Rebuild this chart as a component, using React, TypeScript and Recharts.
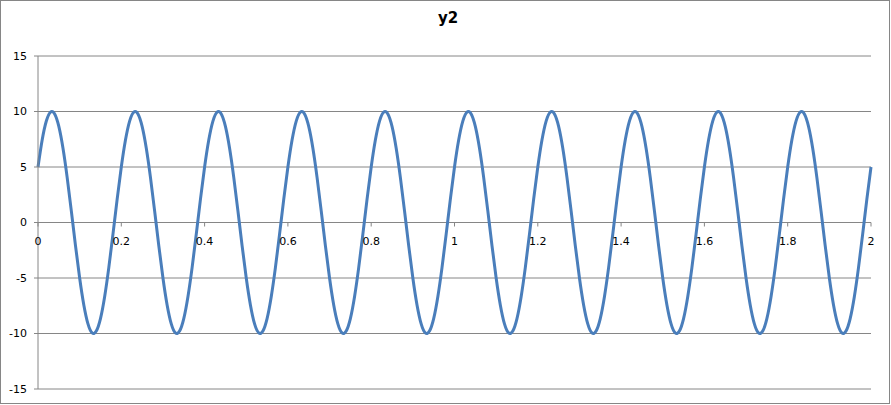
import React from "react";
import { LineChart, Line, XAxis, YAxis, CartesianGrid } from "recharts";

const title = "y2";

const xValues = [
  0, 0.01, 0.02, 0.03, 0.04, 0.05, 0.06, 0.07, 0.08, 0.09,
  0.1, 0.11, 0.12, 0.13, 0.14, 0.15, 0.16, 0.17, 0.18, 0.19,
  0.2, 0.21, 0.22, 0.23, 0.24, 0.25, 0.26, 0.27, 0.28, 0.29,
  0.3, 0.31, 0.32, 0.33, 0.34, 0.35, 0.36, 0.37, 0.38, 0.39,
  0.4, 0.41, 0.42, 0.43, 0.44, 0.45, 0.46, 0.47, 0.48, 0.49,
  0.5, 0.51, 0.52, 0.53, 0.54, 0.55, 0.56, 0.57, 0.58, 0.59,
  0.6, 0.61, 0.62, 0.63, 0.64, 0.65, 0.66, 0.67, 0.68, 0.69,
  0.7, 0.71, 0.72, 0.73, 0.74, 0.75, 0.76, 0.77, 0.78, 0.79,
  0.8, 0.81, 0.82, 0.83, 0.84, 0.85, 0.86, 0.87, 0.88, 0.89,
  0.9, 0.91, 0.92, 0.93, 0.94, 0.95, 0.96, 0.97, 0.98, 0.99,
  1, 1.01, 1.02, 1.03, 1.04, 1.05, 1.06, 1.07, 1.08, 1.09,
  1.1, 1.11, 1.12, 1.13, 1.14, 1.15, 1.16, 1.17, 1.18, 1.19,
  1.2, 1.21, 1.22, 1.23, 1.24, 1.25, 1.26, 1.27, 1.28, 1.29,
  1.3, 1.31, 1.32, 1.33, 1.34, 1.35, 1.36, 1.37, 1.38, 1.39,
  1.4, 1.41, 1.42, 1.43, 1.44, 1.45, 1.46, 1.47, 1.48, 1.49,
  1.5, 1.51, 1.52, 1.53, 1.54, 1.55, 1.56, 1.57, 1.58, 1.59,
  1.6, 1.61, 1.62, 1.63, 1.64, 1.65, 1.66, 1.67, 1.68, 1.69,
  1.7, 1.71, 1.72, 1.73, 1.74, 1.75, 1.76, 1.77, 1.78, 1.79,
  1.8, 1.81, 1.82, 1.83, 1.84, 1.85, 1.86, 1.87, 1.88, 1.89,
  1.9, 1.91, 1.92, 1.93, 1.94, 1.95, 1.96, 1.97, 1.98, 1.99,
  2,
];

const y2Values = [
  5, 7.43, 9.14, 9.95, 9.78, 8.66, 6.69, 4.07, 1.05, -2.08,
  -5, -7.43, -9.14, -9.95, -9.78, -8.66, -6.69, -4.07, -1.05, 2.08,
  5, 7.43, 9.14, 9.95, 9.78, 8.66, 6.69, 4.07, 1.05, -2.08,
  -5, -7.43, -9.14, -9.95, -9.78, -8.66, -6.69, -4.07, -1.05, 2.08,
  5, 7.43, 9.14, 9.95, 9.78, 8.66, 6.69, 4.07, 1.05, -2.08,
  -5, -7.43, -9.14, -9.95, -9.78, -8.66, -6.69, -4.07, -1.05, 2.08,
  5, 7.43, 9.14, 9.95, 9.78, 8.66, 6.69, 4.07, 1.05, -2.08,
  -5, -7.43, -9.14, -9.95, -9.78, -8.66, -6.69, -4.07, -1.05, 2.08,
  5, 7.43, 9.14, 9.95, 9.78, 8.66, 6.69, 4.07, 1.05, -2.08,
  -5, -7.43, -9.14, -9.95, -9.78, -8.66, -6.69, -4.07, -1.05, 2.08,
  5, 7.43, 9.14, 9.95, 9.78, 8.66, 6.69, 4.07, 1.05, -2.08,
  -5, -7.43, -9.14, -9.95, -9.78, -8.66, -6.69, -4.07, -1.05, 2.08,
  5, 7.43, 9.14, 9.95, 9.78, 8.66, 6.69, 4.07, 1.05, -2.08,
  -5, -7.43, -9.14, -9.95, -9.78, -8.66, -6.69, -4.07, -1.05, 2.08,
  5, 7.43, 9.14, 9.95, 9.78, 8.66, 6.69, 4.07, 1.05, -2.08,
  -5, -7.43, -9.14, -9.95, -9.78, -8.66, -6.69, -4.07, -1.05, 2.08,
  5, 7.43, 9.14, 9.95, 9.78, 8.66, 6.69, 4.07, 1.05, -2.08,
  -5, -7.43, -9.14, -9.95, -9.78, -8.66, -6.69, -4.07, -1.05, 2.08,
  5, 7.43, 9.14, 9.95, 9.78, 8.66, 6.69, 4.07, 1.05, -2.08,
  -5, -7.43, -9.14, -9.95, -9.78, -8.66, -6.69, -4.07, -1.05, 2.08,
  5,
];

const xTicks = [0, 0.2, 0.4, 0.6, 0.8, 1, 1.2, 1.4, 1.6, 1.8, 2];
const xTickLabels = ["0", "0.2", "0.4", "0.6", "0.8", "1", "1.2", "1.4", "1.6", "1.8", "2"];
const yTicks = [-15, -10, -5, 0, 5, 10, 15];

const data = xValues.map((x, i) => ({ x, y2: y2Values[i] }));

const W = 891;
const H = 405;
const X_AXIS_H = 2;
const MARGIN = { top: 56, right: 20, bottom: 14, left: 8 };
const Y_AXIS_W = 30;
const PLOT_H = H - MARGIN.top - MARGIN.bottom - X_AXIS_H;
const GRAY = "#868686";
const FONT = "'DejaVu Sans', sans-serif";

// X tick labels sit on the zero line (domain is symmetric, so zero is mid-plot)
const renderXTick = (props: any) => {
  const { x, payload, index } = props;
  const zeroY = MARGIN.top + PLOT_H / 2;
  const idx = xTicks.indexOf(payload.value);
  const label = idx >= 0 ? xTickLabels[idx] : String(payload.value);
  return (
    <g key={`xt-${index}`}>
      <line x1={x} x2={x} y1={zeroY} y2={zeroY + 4} stroke={GRAY} strokeWidth={1} />
      <text x={x} y={zeroY + 22} textAnchor="middle" fontFamily={FONT} fontSize={11} fill="#000">
        {label}
      </text>
    </g>
  );
};

export default function App() {
  return (
    <div style={{ position: "absolute", left: 0, top: 0, width: W, height: H, background: "#fff" }}>
      <div
        style={{
          position: "absolute",
          left: 0,
          top: 9,
          width: W,
          textAlign: "center",
          fontFamily: FONT,
          fontWeight: "bold",
          fontSize: 15,
          color: "#000",
          paddingLeft: 5,
          boxSizing: "border-box",
        }}
      >
        {title}
      </div>
      <LineChart width={W} height={H} data={data} margin={MARGIN}>
        <CartesianGrid vertical={false} stroke={GRAY} strokeWidth={1} />
        <XAxis
          dataKey="x"
          type="number"
          domain={[0, 2]}
          ticks={xTicks}
          axisLine={false}
          tickLine={false}
          height={X_AXIS_H}
          tick={renderXTick}
          interval={0}
        />
        <YAxis
          type="number"
          domain={[-15, 15]}
          ticks={yTicks}
          width={Y_AXIS_W}
          axisLine={{ stroke: GRAY, strokeWidth: 1 }}
          tickLine={{ stroke: GRAY, strokeWidth: 1 }}
          tickSize={4}
          tickMargin={7}
          interval={0}
          tick={{ fontFamily: FONT, fontSize: 11, fill: "#000" }}
        />
        <Line
          type="natural"
          dataKey="y2"
          stroke="#4a7ebb"
          strokeWidth={3}
          dot={false}
          isAnimationActive={false}
        />
      </LineChart>
      <div
        style={{
          position: "absolute",
          left: 0,
          top: 0,
          width: W - 1,
          height: H - 1,
          border: `1px solid ${GRAY}`,
          boxSizing: "border-box",
          pointerEvents: "none",
        }}
      />
    </div>
  );
}
